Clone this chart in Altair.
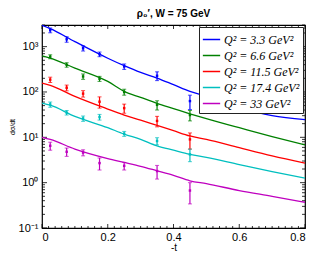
import altair as alt
import pandas as pd

series = ["Q² = 3.3 GeV²", "Q² = 6.6 GeV²", "Q² = 11.5 GeV²", "Q² = 17.4 GeV²", "Q² = 33 GeV²"]
colors = ["#0000ff", "#008000", "#ff0000", "#00bfbf", "#bf00bf"]

# measured points (-t positions)
pt_x = [0.025, 0.075, 0.125, 0.175, 0.25, 0.35, 0.45]
pt_val = [
    [2300, 1450, 920, 680, 365, 228, 63],
    [600, 397, 220, 196, 100, 52, 31],
    [187, 124, 92, 61, 44, 23, 9],
    [53, 35, 26, 28, 12, 8.3, 4.2],
    [6.5, 4.8, 4.6, 2.7, 2.35, 1.8, 0.67],
]
pt_err = [
    [280, 200, 120, 80, 50, 50, 22],
    [60, 45, 30, 25, 15, 12, 8],
    [25, 18, 15, 17, 10, 6, 3.5],
    [7, 4, 3.5, 4, 1.5, 1.5, 1.3],
    [1.3, 1.0, 0.7, 0.8, 0.45, 0.6, 0.33],
]

# model curves
cx = [0, 0.025, 0.1, 0.2, 0.25, 0.3, 0.35, 0.4, 0.45, 0.5, 0.6, 0.7, 0.8]
cy = [
    [2950, 2500, 1290, 555, 380, 270, 203, 145, 103, 80, 45, 30, 24.6],
    [625, 560, 336, 171, 103, 76, 56, 43, 33, 25.7, 16.3, 10.4, 6.8],
    [157, 140, 80, 42, 31, 24, 18.3, 14, 10.7, 9.0, 5.9, 3.9, 2.7],
    [57, 51, 29, 16.3, 11.8, 9, 6.5, 5.2, 4.2, 3.6, 2.5, 1.75, 1.26],
    [10, 9.0, 5.5, 3.4, 2.8, 2.3, 1.83, 1.45, 1.1, 0.95, 0.67, 0.5, 0.37],
]

y_major = [0.1, 1, 10, 100, 1000]
x_labels = [0, 0.2, 0.4, 0.6, 0.8]

W, H = 263, 203

curve_rows = []
for s, ys in zip(series, cy):
    for x, y in zip(cx, ys):
        curve_rows.append({"x": x, "y": y, "s": s})
curves = pd.DataFrame(curve_rows)

pt_rows = []
for s, vs, es in zip(series, pt_val, pt_err):
    for x, v, e in zip(pt_x, vs, es):
        pt_rows.append({"x": x, "v": v, "lo": v - e, "hi": v + e, "s": s})
pts = pd.DataFrame(pt_rows)

ymin_t = []
for k in range(-1, 4):
    for m in range(1, 10):
        v = m * 10 ** k
        if v <= 3000:
            ymin_t.append({"v": v, "major": m == 1})
yt = pd.DataFrame(ymin_t)
xt = pd.DataFrame({"v": [i * 0.02 for i in range(41)], "major": [i % 10 == 0 for i in range(41)]})

xs = alt.Scale(domain=[0, 0.8], nice=False, zero=False)
ys = alt.Scale(type="log", domain=[0.1, 3000], nice=False)
cs = alt.Scale(domain=series, range=colors)

lines = alt.Chart(curves).mark_line(strokeWidth=1.3, interpolate="monotone", clip=True).encode(
    x=alt.X("x:Q", scale=xs, axis=alt.Axis(values=x_labels, labelExpr="datum.value == 0 ? '0' : format(datum.value, '.1f')", title="-t", tickSize=0, labelPadding=3, titlePadding=0, grid=False)),
    y=alt.Y("y:Q", scale=ys, axis=alt.Axis(values=y_major, tickSize=0, labelPadding=4, grid=False, title="dσ/dt", titleFontSize=7, titleFontWeight="normal", titlePadding=3,
        labelExpr="datum.value >= 1000 ? '10³' : datum.value >= 100 ? '10²' : datum.value >= 10 ? '10¹' : datum.value >= 1 ? '10⁰' : '10⁻¹'")),
    color=alt.Color("s:N", scale=cs, sort=series, legend=alt.Legend(
        title=None, orient="none", legendX=157, legendY=2, symbolType="stroke", symbolSize=300,
        symbolStrokeWidth=1.5, labelFont="Liberation Serif", labelFontStyle="italic", labelFontSize=12,
        rowPadding=0, padding=3, labelOffset=3, fillColor="white", strokeColor="#222222",
        labelLimit=200)),
)

bars = alt.Chart(pts).mark_rule(strokeWidth=1.2).encode(
    x="x:Q", y=alt.Y("lo:Q", scale=ys), y2="hi:Q", color=alt.Color("s:N", scale=cs, legend=None))
capsl = alt.Chart(pts).mark_tick(orient="horizontal", size=4, thickness=1).encode(
    x="x:Q", y=alt.Y("lo:Q", scale=ys), color=alt.Color("s:N", scale=cs, legend=None))
capsh = alt.Chart(pts).mark_tick(orient="horizontal", size=4, thickness=1).encode(
    x="x:Q", y=alt.Y("hi:Q", scale=ys), color=alt.Color("s:N", scale=cs, legend=None))
dots = alt.Chart(pts).mark_square(size=6, opacity=1).encode(
    x="x:Q", y=alt.Y("v:Q", scale=ys), color=alt.Color("s:N", scale=cs, legend=None))

def ytick(x0, x1, major):
    return alt.Chart(yt).transform_filter(alt.datum.major == major).mark_rule(color="black", strokeWidth=0.8).encode(
        y=alt.Y("v:Q", scale=ys), x=alt.value(x0), x2=alt.value(x1))

def xtick(y0, y1, major):
    return alt.Chart(xt).transform_filter(alt.datum.major == major).mark_rule(color="black", strokeWidth=0.8).encode(
        x=alt.X("v:Q", scale=xs), y=alt.value(y0), y2=alt.value(y1))

ticks = [
    ytick(0, 5, True), ytick(0, 3, False), ytick(W - 5, W, True), ytick(W - 3, W, False),
    xtick(H - 4, H, True), xtick(H - 2, H, False), xtick(0, 4, True), xtick(0, 2, False),
]

chart = alt.layer(*ticks, lines, bars, capsl, capsh, dots).properties(
    width=W, height=H,
    title=alt.Title("ρ₀′,  W = 75 GeV", fontSize=10, fontWeight="bold", font="Liberation Sans", anchor="middle", offset=6),
    padding={"left": 34, "top": 17, "right": 4, "bottom": 30},
    autosize=alt.AutoSizeParams(type="none"),
).configure_view(stroke="black", strokeWidth=1.2).configure_axis(
    labelFont="Liberation Sans", labelFontSize=11, labelColor="black", titleFont="Liberation Sans",
    titleFontSize=10, titleFontWeight="normal", titleColor="black", domain=False,
).configure_axisX(titleFontSize=10)

chart.save("out.html", embed_options={"renderer": "svg", "actions": False})
